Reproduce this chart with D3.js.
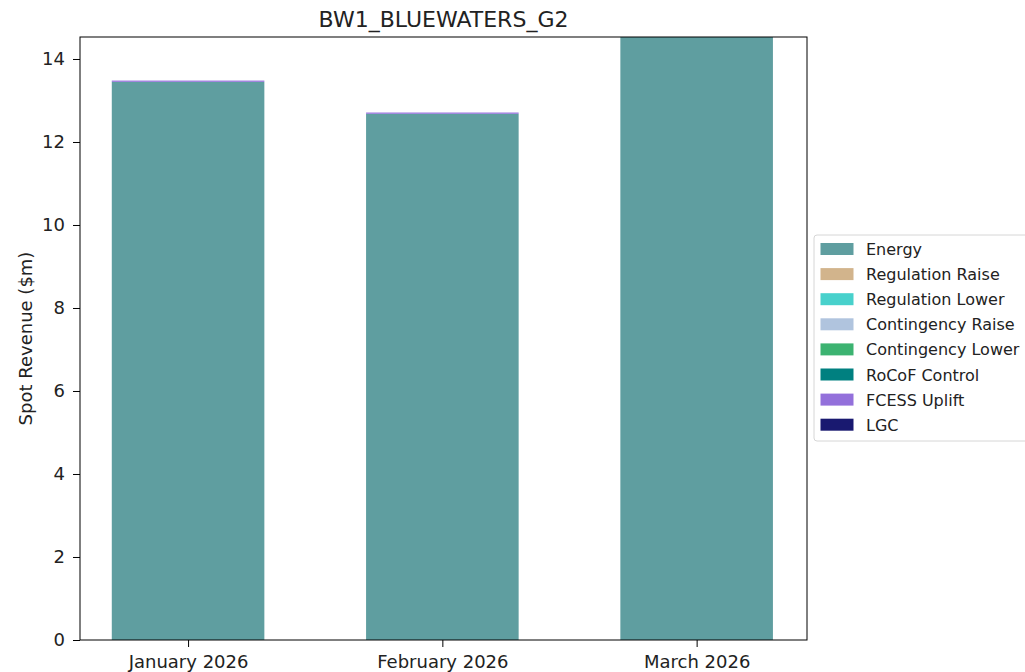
<!DOCTYPE html>
<html>
<head>
<meta charset="utf-8">
<script src="https://cdn.jsdelivr.net/npm/d3@7"></script>
<style>
  body { margin: 0; background: #fff; }
  text { font-family: "DejaVu Sans", sans-serif; fill: #222; }
</style>
</head>
<body>
<script>
const width  = 1025;
const height = 672;
const margin = {top: 37, right: 218, bottom: 32, left: 80};

// data
const months   = ['January 2026', 'February 2026', 'March 2026'];
const services = ['Energy', 'Regulation Raise', 'Regulation Lower', 'Contingency Raise',
                  'Contingency Lower', 'RoCoF Control', 'FCESS Uplift', 'LGC'];
const colors   = ['#5f9ea0', '#d2b48c', '#48d1cc', '#b0c4de', '#3cb371', '#008080', '#9370db', '#191970'];

const energy        = [13.45, 12.68, 15.2];
const regRaise      = [0, 0, 0];
const regLower      = [0, 0, 0];
const contRaise     = [0, 0, 0];
const contLower     = [0, 0, 0];
const rocof         = [0, 0, 0];
const fcessUplift   = [0.03, 0.03, 0.03];
const lgc           = [0, 0, 0];
const yTicks        = [0, 2, 4, 6, 8, 10, 12, 14];

const seriesValues = [energy, regRaise, regLower, contRaise, contLower, rocof, fcessUplift, lgc];
const rows = months.map((m, i) => {
  const r = {month: m, idx: i};
  services.forEach((s, k) => { r[s] = seriesValues[k][i]; });
  return r;
});

const plotW = width - margin.left - margin.right;
const plotH = height - margin.top - margin.bottom;

const svg = d3.select('body').append('svg')
  .attr('width', width)
  .attr('height', height);

const g = svg.append('g')
  .attr('transform', 'translate(' + margin.left + ',' + margin.top + ')');

const x = d3.scaleLinear().domain([-0.425, 2.434]).range([0, plotW]);
const y = d3.scaleLinear().domain([0, 14.53]).range([plotH, 0]);
const barW = x(0.6) - x(0);

g.append('clipPath').attr('id', 'clip')
  .append('rect').attr('width', plotW).attr('height', plotH);

const stack = d3.stack().keys(services);
const layers = stack(rows);

const bars = g.append('g').attr('clip-path', 'url(#clip)');
layers.forEach((layer, k) => {
  bars.selectAll('.bar' + k)
    .data(layer)
    .enter().append('rect')
    .attr('class', 'bar' + k)
    .attr('x', d => x(d.data.idx) - barW / 2)
    .attr('width', barW)
    .attr('y', d => y(d[1]))
    .attr('height', d => Math.max(0, y(d[0]) - y(d[1])))
    .attr('fill', colors[k]);
});

// axes
const yAxis = g.append('g')
  .call(d3.axisLeft(y).tickValues(yTicks).tickSize(7).tickPadding(8).tickFormat(d3.format('d')));
yAxis.select('.domain').remove();
yAxis.selectAll('text').style('font-size', '18px');

const xAxis = g.append('g')
  .attr('transform', 'translate(0,' + plotH + ')')
  .call(d3.axisBottom(x).tickValues([0, 1, 2]).tickSize(7).tickPadding(8).tickFormat(i => months[i]));
xAxis.select('.domain').remove();
xAxis.selectAll('text').style('font-size', '18px');

g.append('rect')
  .attr('width', plotW).attr('height', plotH)
  .attr('fill', 'none').attr('stroke', '#000').attr('stroke-width', 1);

// title and label
svg.append('text')
  .attr('x', margin.left + plotW / 2).attr('y', 27)
  .attr('text-anchor', 'middle').style('font-size', '22px')
  .text('BW1_BLUEWATERS_G2');

svg.append('text')
  .attr('transform', 'translate(32,' + (margin.top + plotH / 2) + ') rotate(-90)')
  .attr('text-anchor', 'middle').style('font-size', '18px')
  .text('Spot Revenue ($m)');

// legend
const legend = svg.append('g').attr('transform', 'translate(814,235)');
legend.append('rect')
  .attr('width', 220).attr('height', 206).attr('rx', 3)
  .attr('fill', '#fff').attr('stroke', '#d6d6d6');
services.forEach((s, k) => {
  const row = legend.append('g').attr('transform', 'translate(0,' + (14 + k * 25.1) + ')');
  row.append('rect').attr('x', 6.5).attr('y', -6).attr('width', 33).attr('height', 12).attr('fill', colors[k]);
  row.append('text').attr('x', 52).attr('y', 6).style('font-size', '16px').text(s);
});
</script>
</body>
</html>
